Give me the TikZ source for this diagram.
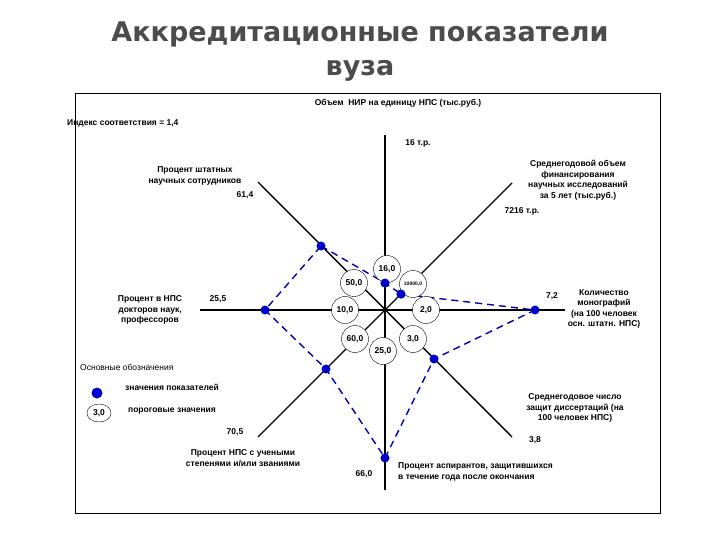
\documentclass[tikz,border=0pt]{standalone}
\usepackage{fontspec}
\usetikzlibrary{shapes.geometric}
\setmainfont{Liberation Sans}
\newfontfamily\titlefont{DejaVu Sans}
\begin{document}
\begin{tikzpicture}[x=1pt,y=-1pt,
  lbl/.style={font=\fontsize{8.5}{10.5}\selectfont\bfseries, align=center, inner sep=0pt},
  axis/.style={line width=1.4pt, black},
  thr/.style={draw, fill=white, circle, minimum size=27pt, inner sep=0pt, font=\fontsize{8.5}{10}\selectfont\bfseries},
  pt/.style={circle, fill=blue!80!black, minimum size=9pt, inner sep=0pt},
  poly/.style={blue!70!black, line width=1.4pt, dash pattern=on 7pt off 5pt}]
\useasboundingbox (0,0) rectangle (720,540);
\node (t) at (360,52) [align=center, text=black!70, font=\titlefont\fontsize{27}{34}\selectfont\bfseries] {Аккредитационные показатели\\вуза};
\draw[line width=0.8pt] (75,93) rectangle (660,513);
\coordinate (c) at (385,310);
\coordinate (nE) at (385,135); \coordinate (sE) at (385,490);
\coordinate (wE) at (200,310); \coordinate (eE) at (565,310);
\coordinate (nwE) at (258,182); \coordinate (seE) at (512,437);
\coordinate (neE) at (512,183); \coordinate (swE) at (258,437);
\draw[axis] (nE) -- (sE);
\draw[axis] (wE) -- (eE);
\draw[axis] (nwE) -- (seE);
\draw[axis] (neE) -- (swE);
\node[pt] (pnw) at (321,246) {};
\node[pt] (pn) at (385,283) {};
\node[pt] (pne) at (401,294) {};
\node[pt] (pe) at (535,310) {};
\node[pt] (pse) at (434,359) {};
\node[pt] (ps) at (385,458) {};
\node[pt] (psw) at (326,369) {};
\node[pt] (pw) at (265,310) {};
\draw[poly] (pnw.center) -- (pn.center) -- (pne.center) -- (pe.center) -- (pse.center) -- (ps.center) -- (psw.center) -- (pw.center) -- cycle;
\node[thr] (t1) at (387,269) {16,0};
\node[thr] (t2) at (354,283) {50,0};
\node[thr, font=\fontsize{5}{6}\selectfont\bfseries] (t3) at (413,284) {10000,0};
\node[thr] (t4) at (345,310) {10,0};
\node[thr] (t5) at (426,310) {2,0};
\node[thr] (t6) at (355,339) {60,0};
\node[thr] (t7) at (383,351) {25,0};
\node[thr] (t8) at (413,339) {3,0};
\node[pt] (pn2) at (385,283) {};
\node[pt] (pne2) at (401,294) {};
\node[lbl] (l1) at (398,103) {Объем\ \ НИР на единицу НПС (тыс.руб.)};
\node[lbl, anchor=west] (l2) at (67,123) {Индекс соответствия = 1,4};
\node[lbl] (l3) at (418,143) {16 т.р.};
\node[lbl] (l4) at (195,176) {Процент штатных\\научных сотрудников};
\node[lbl] (l5) at (245,195) {61,4};
\node[lbl] (l6) at (578,180) {Среднегодовой объем\\финансирования\\научных исследований\\за 5 лет (тыс.руб.)};
\node[lbl] (l7) at (522,211) {7216 т.р.};
\node[lbl] (l8) at (150,310) {Процент в НПС\\докторов наук,\\профессоров};
\node[lbl] (l9) at (218,299) {25,5};
\node[lbl] (l10) at (552,296) {7,2};
\node[lbl] (l11) at (604,309) {Количество\\монографий\\(на 100 человек\\осн. штатн. НПС)};
\node[lbl, anchor=west, font=\fontsize{8.5}{10}\selectfont] (l12) at (80,367) {Основные обозначения};
\node[pt, minimum size=11pt] (lg1) at (97,393) {};
\node[lbl] (l13) at (172,387) {значения показателей};
\node[draw, ellipse, minimum width=24pt, minimum height=18pt, inner sep=0pt, font=\fontsize{8.5}{10}\selectfont\bfseries] (lg2) at (99,413) {3,0};
\node[lbl] (l14) at (172,411) {пороговые значения};
\node[lbl] (l15) at (235,432) {70,5};
\node[lbl] (l16) at (243,458) {Процент НПС с учеными\\степенями и/или званиями};
\node[lbl] (l17) at (364,474) {66,0};
\node[lbl, anchor=west, align=left] (l18) at (398,472) {Процент аспирантов, защитившихся\\в течение года после окончания};
\node[lbl] (l19) at (575,408) {Среднегодовое число\\защит диссертаций (на\\100 человек НПС)};
\node[lbl] (l20) at (535,440) {3,8};
\end{tikzpicture}
\end{document}
